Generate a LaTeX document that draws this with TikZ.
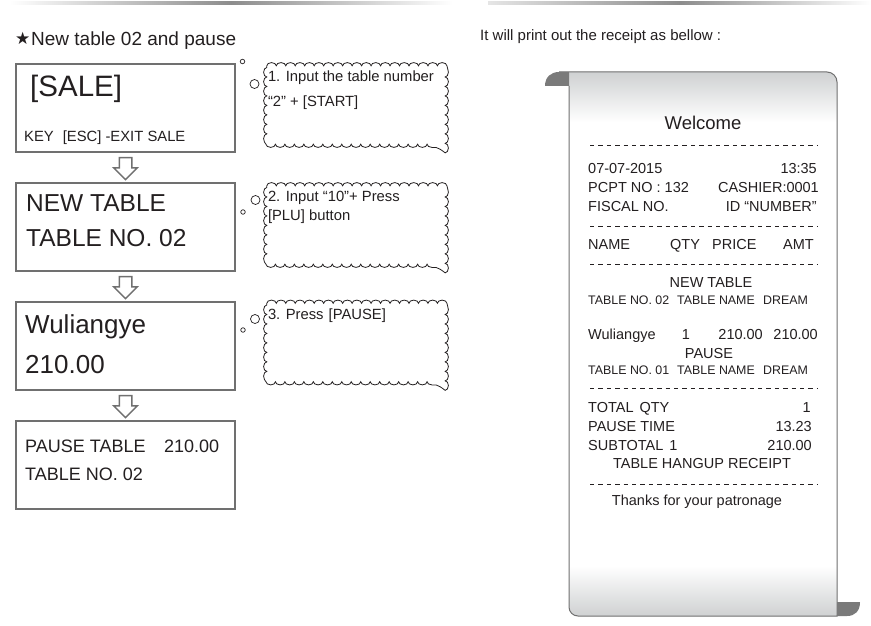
\documentclass[tikz,border=0pt]{standalone}
\usepackage{fontspec}
\setmainfont{Liberation Sans}
\newfontfamily\symfont{DejaVu Sans}
\usepackage{tikz}
\usetikzlibrary{positioning,calc,shapes.arrows,decorations.pathmorphing}
\definecolor{ink}{HTML}{231F20}
\definecolor{lcdgray}{HTML}{707070}
\definecolor{curlgray}{HTML}{7A7A7A}
\definecolor{papershade}{HTML}{CDCFD0}
\tikzset{
  lcdbox/.style={
    rectangle, draw=lcdgray, line width=2pt,
    minimum width=219pt, minimum height=88pt,
    inner sep=0pt
  },
  lcdtext/.style={
    font=\fontsize{#1}{#1}\selectfont, text=ink,
    inner sep=0pt, anchor=base west
  },
  lcdtext/.default=24,
  steparrow/.style={
    single arrow, shape border rotate=270, draw=lcdgray, fill=white,
    line width=1.5pt, minimum height=22pt, inner sep=5.5pt,
    single arrow head extend=5.5pt
  },
  thought/.style={
    rectangle, minimum width=178pt, minimum height=78pt, inner sep=0pt
  },
  cloudline/.style={
    draw=ink, line width=0.8pt,
    decorate, decoration={bumps, segment length=18.96pt, amplitude=3.2pt}
  },
  bubble/.style={circle, draw=ink, line width=0.7pt, inner sep=0pt, minimum size=#1},
  bubble/.default=9pt,
  notetext/.style={font=\fontsize{14.8}{16}\selectfont, text=ink, inner sep=0pt, anchor=base west},
  rcpt/.style={font=\fontsize{14.5}{16}\selectfont, text=ink, inner sep=0pt, anchor=#1},
  rcpt/.default=base west,
  rcptsmall/.style={font=\fontsize{12.4}{14}\selectfont, text=ink, inner sep=0pt, anchor=base west},
  cutline/.style={ink, line width=0.8pt, dash pattern=on 4.4pt off 4pt},
}

\begin{document}
\begin{tikzpicture}[x=1pt, y=-1pt]
    \useasboundingbox[fill=white] (0,0) rectangle (871,626);
    % header rules
    \shade[left color=white, right color=white, middle color=gray!90] (10,2) rectangle (452,5);
    \shade[left color=gray!20, right color=white, middle color=gray!90] (488,2) rectangle (871,5);
    \node[lcdtext=17] (star) at (15,45) {\symfont ★};
    \node[lcdtext=19] (title) at (31,46) {New table 02 and pause};
    \node[lcdtext=15] (intro) at (480,41) {It will print out the receipt as bellow :};

    % LCD screens
    \node[lcdbox, anchor=north west] (sale) at (15,63) {};
    \node[lcdbox, below=29pt of sale] (newtbl) {};
    \node[lcdbox, below=29pt of newtbl] (item) {};
    \node[lcdbox, below=29pt of item] (pausetbl) {};
    \node[steparrow] (a1) at ($(sale.south)!0.43!(newtbl.north)$) {};
    \node[steparrow] (a2) at ($(newtbl.south)!0.43!(item.north)$) {};
    \node[steparrow] (a3) at ($(item.south)!0.43!(pausetbl.north)$) {};

    \node[lcdtext=29.5] (saletxt) at ([shift={(15,33)}]sale.north west) {[SALE]};
    \node[lcdtext=14.8] (keytxt) at ([shift={(9,79)}]sale.north west) {KEY\hspace{9pt}[ESC] -EXIT SALE};
    \node[lcdtext=24.5] (newtxt) at ([shift={(11,29)}]newtbl.north west) {NEW TABLE};
    \node[lcdtext=24.5] (notxt) at ([shift={(11,64)}]newtbl.north west) {TABLE NO. 02};
    \node[lcdtext=26] (itemtxt) at ([shift={(10,32)}]item.north west) {Wuliangye};
    \node[lcdtext=26] (pricetxt) at ([shift={(10,72)}]item.north west) {210.00};
    \node[lcdtext=18] (pausetxt) at ([shift={(10,32)}]pausetbl.north west) {PAUSE TABLE};
    \node[lcdtext=18] (pamttxt) at ([shift={(149,32)}]pausetbl.north west) {210.00};
    \node[lcdtext=18] (pnotxt) at ([shift={(10,60)}]pausetbl.north west) {TABLE NO. 02};

    % thought clouds
    \foreach \n/\y in {note1/105, note2/225, note3/342.5} {
      \node[thought] (\n) at (356,\y) {};
      \draw[cloudline] (\n.north west) -- (\n.north east) -- (\n.south east) -- (\n.south west) -- cycle;
    }
    \node[bubble] (big1) at (254.5,84) {};
    \node[bubble=4.5pt] (small1) at (242.5,61.5) {};
    \node[bubble] (big2) at (255.5,200) {};
    \node[bubble=4.5pt] (small2) at (243,212) {};
    \node[bubble] (big3) at (255,319) {};
    \node[bubble=4.5pt] (small3) at (243,330) {};
    \node[notetext] (n1a) at ([shift={(1,16)}]note1.north west) {1. Input the table number};
    \node[notetext] (n1b) at ([shift={(1,41)}]note1.north west) {“2” + [START]};
    \node[notetext] (n2a) at ([shift={(1,16)}]note2.north west) {2. Input “10”+ Press};
    \node[notetext] (n2b) at ([shift={(1,35)}]note2.north west) {[PLU] button};
    \node[notetext] (n3a) at ([shift={(1,16)}]note3.north west) {3. Press\hspace{5pt}[PAUSE]};

    % receipt roll
    \begin{scope}
      \clip (569,86) -- (569,607) .. controls (569,612) and (573,616) .. (578,616) -- (837,616)
        -- (837,82) .. controls (837,76.5) and (832.5,72) .. (827,72) -- (569,72) -- cycle;
      \fill[white] (560,70) rectangle (840,620);
      \shade[top color=papershade, bottom color=white] (560,70) rectangle (840,122);
      \shade[top color=white, bottom color=papershade] (560,566) rectangle (840,618);
    \end{scope}
    \draw[lcdgray, line width=1pt] (569,86) -- (569,607) .. controls (569,612) and (573,616) .. (578,616) -- (837,616)
        -- (837,82) .. controls (837,76.5) and (832.5,72) .. (827,72) -- (559,72);
    \fill[curlgray] (545,86) .. controls (545,77) and (551,72) .. (559,72) -- (569,72) -- (569,86) -- cycle;
    \fill[curlgray] (837,602) -- (860,602) .. controls (860,611) and (855,616) .. (847,616) -- (837,616) -- cycle;

    \node[rcpt=base, font=\fontsize{18.5}{20}\selectfont] (welcome) at (703,129) {Welcome};
    \draw[cutline] (590,145) -- (817,145);
    \node[rcpt] (date) at (588,173) {07-07-2015};
    \node[rcpt=base east] (time) at (817,173) {13:35};
    \node[rcpt] (pcpt) at (588,192) {PCPT NO : 132};
    \node[rcpt=base east] (cashier) at (819,192) {CASHIER:0001};
    \node[rcpt] (fiscal) at (588,211) {FISCAL NO.};
    \node[rcpt=base east] (fid) at (817,211) {ID “NUMBER”};
    \draw[cutline] (590,226) -- (817,226);
    \node[rcpt] (hname) at (588,249) {NAME};
    \node[rcpt] (hqty) at (670,249) {QTY};
    \node[rcpt] (hprice) at (712,249) {PRICE};
    \node[rcpt=base east] (hamt) at (814,249) {AMT};
    \draw[cutline] (590,264) -- (817,264);
    \node[rcpt=base] (newhead) at (711,287) {NEW TABLE};
    \node[rcptsmall] (tno2) at (588,304) {TABLE NO. 02};
    \node[rcptsmall] (tname2) at (677,304) {TABLE NAME};
    \node[rcptsmall] (dream2) at (763,304) {DREAM};
    \node[rcpt] (iname) at (588,339) {Wuliangye};
    \node[rcpt=base] (iqty) at (686,339) {1};
    \node[rcpt=base east] (iprice) at (763,339) {210.00};
    \node[rcpt=base east] (iamt) at (818,339) {210.00};
    \node[rcpt=base] (pausehead) at (709,358) {PAUSE};
    \node[rcptsmall] (tno1) at (588,374) {TABLE NO. 01};
    \node[rcptsmall] (tname1) at (677,374) {TABLE NAME};
    \node[rcptsmall] (dream1) at (763,374) {DREAM};
    \draw[cutline] (590,388) -- (817,388);
    \node[rcpt] (totq) at (588,412) {TOTAL\hspace{6pt}QTY};
    \node[rcpt=base east] (totqv) at (811,412) {1};
    \node[rcpt] (ptime) at (588,431) {PAUSE TIME};
    \node[rcpt=base east] (ptimev) at (812,431) {13.23};
    \node[rcpt] (subt) at (588,450) {SUBTOTAL\hspace{6pt}1};
    \node[rcpt=base east] (subtv) at (812,450) {210.00};
    \node[rcpt=base] (hangup) at (702,468) {TABLE HANGUP RECEIPT};
    \draw[cutline] (590,484) -- (817,484);
    \node[rcpt=base] (thanks) at (697,505) {Thanks for your patronage};
\end{tikzpicture}
\end{document}
